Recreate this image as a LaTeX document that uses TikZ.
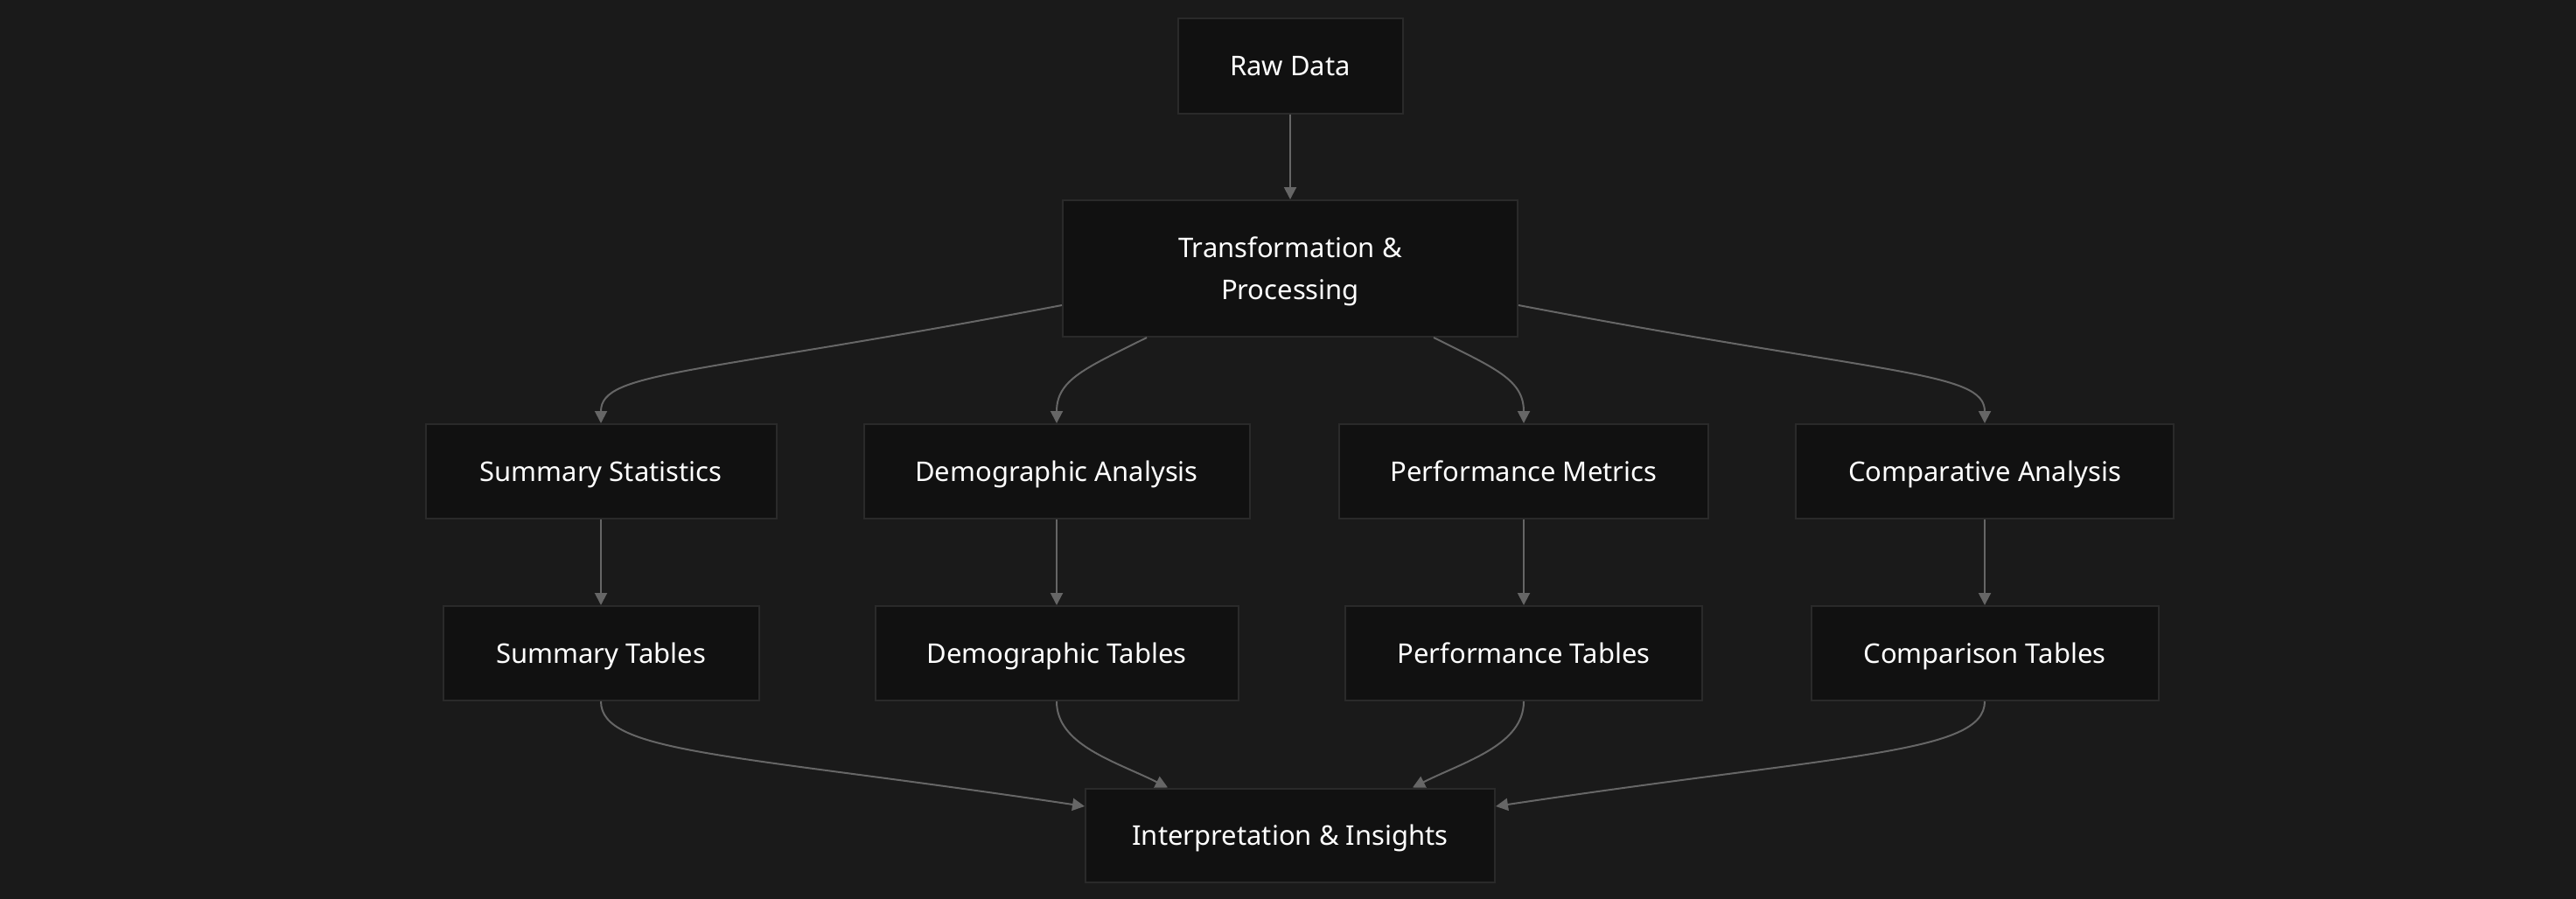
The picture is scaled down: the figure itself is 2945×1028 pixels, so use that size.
\documentclass[tikz,border=0pt]{standalone}
\usepackage{fontspec}
\setmainfont{Noto Sans}
\usetikzlibrary{arrows.meta,calc}
\definecolor{bgc}{HTML}{1A1A1A}
\definecolor{nodefill}{HTML}{111111}
\definecolor{nodeborder}{HTML}{2A2A2A}
\definecolor{edgec}{HTML}{666666}
\tikzset{
  box/.style={draw=nodeborder, fill=nodefill, line width=1pt, inner sep=0pt,
    text=white, align=center, font=\fontsize{15.5}{24}\selectfont,
    text height=11pt, text depth=0pt},
  flow/.style={draw=edgec, line width=1pt, -{Triangle[length=7pt,width=7pt]}},
}
\begin{document}
\begin{tikzpicture}[x=0.5pt,y=-0.5pt]
\fill[bgc] (0,0) rectangle (2945,1028);
\useasboundingbox (0,0) rectangle (2945,1028);

\node[box, minimum width=128.5pt, minimum height=54.5pt] (raw) at (1475,75) {Raw Data};
\node[box, minimum width=260pt, minimum height=78pt, text height=35pt] (trans) at (1475,307) {Transformation \&\\Processing};

\node[box, minimum width=200.5pt, minimum height=54pt] (ss) at (687,539) {Summary Statistics};
\node[box, minimum width=220.5pt, minimum height=54pt] (da) at (1208,539) {Demographic Analysis};
\node[box, minimum width=211pt, minimum height=54pt] (pm) at (1742,539) {Performance Metrics};
\node[box, minimum width=216pt, minimum height=54pt] (ca) at (2269,539) {Comparative Analysis};

\node[box, minimum width=180.5pt, minimum height=54pt] (st) at (687,747) {Summary Tables};
\node[box, minimum width=207.5pt, minimum height=54pt] (dt) at (1208,747) {Demographic Tables};
\node[box, minimum width=204pt, minimum height=54pt] (pt) at (1742,747) {Performance Tables};
\node[box, minimum width=198.5pt, minimum height=54pt] (ct) at (2269,747) {Comparison Tables};

\node[box, minimum width=234pt, minimum height=53.5pt] (ins) at (1475,955) {Interpretation \& Insights};

\draw[flow] (raw.south) -- (trans.north);

\draw[flow] ($(trans.west)+(0,42)$) .. controls +(-420,80) and +(0,-60) .. (ss.north);
\draw[flow] ($(trans.south)+(-164,0)$) .. controls +(-70,35) and +(0,-50) .. (da.north);
\draw[flow] ($(trans.south)+(164,0)$) .. controls +(70,35) and +(0,-50) .. (pm.north);
\draw[flow] ($(trans.east)+(0,42)$) .. controls +(420,80) and +(0,-60) .. (ca.north);

\draw[flow] (ss.south) -- (st.north);
\draw[flow] (da.south) -- (dt.north);
\draw[flow] (pm.south) -- (pt.north);
\draw[flow] (ca.south) -- (ct.north);

\draw[flow] (st.south) .. controls +(0,60) and +(-400,-60) .. ($(ins.west)+(0,-33)$);
\draw[flow] (dt.south) .. controls +(0,50) and +(-60,-30) .. ($(ins.north)+(-140,0)$);
\draw[flow] (pt.south) .. controls +(0,50) and +(60,-30) .. ($(ins.north)+(140,0)$);
\draw[flow] (ct.south) .. controls +(0,60) and +(400,-60) .. ($(ins.east)+(0,-33)$);
\end{tikzpicture}
\end{document}
